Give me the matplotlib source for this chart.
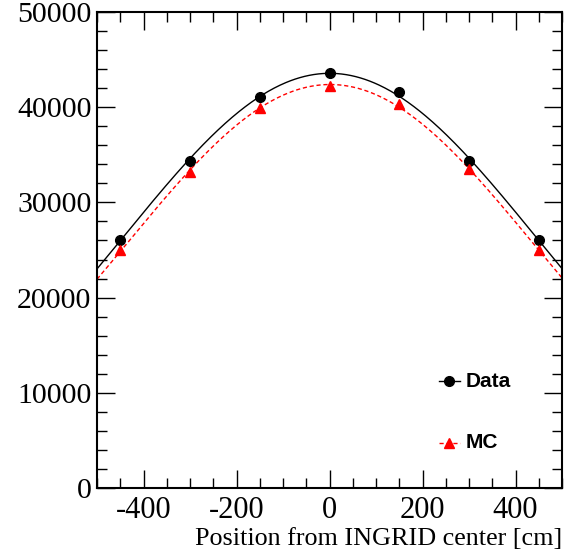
import numpy as np
import matplotlib
matplotlib.use("Agg")
import matplotlib.pyplot as plt
from matplotlib.ticker import MultipleLocator

plt.rcParams["axes.unicode_minus"] = False

# Values
positions = [-450, -300, -150, 0, 150, 300, 450]
data_counts = [26100, 34330, 41120, 43560, 41560, 34370, 26050]
mc_counts = [24950, 33180, 39950, 42250, 40300, 33500, 24950]


def gauss_fit(x, y):
  # gaussian fit = parabola fitted to log(y)
  c = np.polyfit(x, np.log(y), 2)
  xs = np.linspace(-500, 500, 400)
  return xs, np.exp(np.polyval(c, xs))


fig = plt.figure(figsize=(5.83, 5.49), dpi=100)
ax = fig.add_axes([97 / 583, 1 - 488 / 549, (562 - 97) / 583, (488 - 12) / 549])

xs, ys = gauss_fit(positions, data_counts)
ax.plot(xs, ys, color="black", lw=1.0)
xs, ys = gauss_fit(positions, mc_counts)
ax.plot(xs, ys, color="red", lw=1.0, ls=(0, (3, 2)))

ax.plot(positions, data_counts, "o", color="black", ms=7)
ax.plot(positions, mc_counts, "^", color="red", ms=7)

ax.set_xlim(-500, 500)
ax.set_ylim(0, 50000)
ax.xaxis.set_major_locator(MultipleLocator(200))
ax.xaxis.set_minor_locator(MultipleLocator(50))
ax.yaxis.set_major_locator(MultipleLocator(10000))
ax.yaxis.set_minor_locator(MultipleLocator(2000))
ax.tick_params(which="both", direction="in", top=True, right=True, width=1)
ax.tick_params(which="major", length=13)
ax.tick_params(which="minor", length=7)
ax.tick_params(axis="x", which="major", labelsize=22, pad=6)
ax.tick_params(axis="y", which="major", labelsize=21.5, pad=4)
for lab in ax.get_xticklabels() + ax.get_yticklabels():
  lab.set_family("Liberation Serif")
for s in ax.spines.values():
  s.set_linewidth(1.5)

ax.set_xlabel("Position from INGRID center [cm]", family="Liberation Serif",
              fontsize=18.8, loc="right", labelpad=2)

# legend drawn by hand, ROOT style
lx, ly = 0.758, 0.224
ax.plot([lx - 0.022, lx + 0.022], [ly, ly], transform=ax.transAxes, color="black", lw=1)
ax.plot([lx], [ly], "o", transform=ax.transAxes, color="black", ms=7)
ax.text(lx + 0.034, ly, "Data", transform=ax.transAxes, fontsize=15,
        weight="bold", family="Liberation Sans", va="center")
ly2 = 0.095
ax.plot([lx - 0.022, lx + 0.022], [ly2, ly2], transform=ax.transAxes, color="red", lw=1, ls=(0, (3, 2)))
ax.plot([lx], [ly2], "^", transform=ax.transAxes, color="red", ms=7)
ax.text(lx + 0.034, ly2, "MC", transform=ax.transAxes, fontsize=15,
        weight="bold", family="Liberation Sans", va="center")

fig.savefig("out.png", dpi=100)
